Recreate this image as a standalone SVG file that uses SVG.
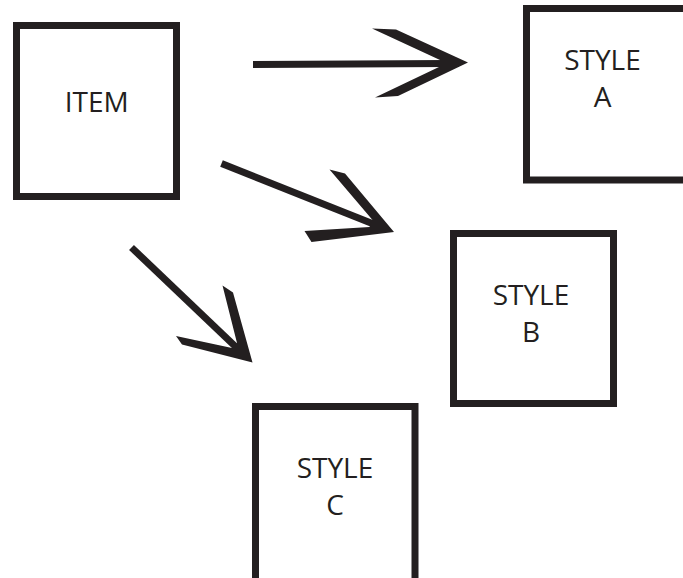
<svg xmlns="http://www.w3.org/2000/svg" width="683" height="578" viewBox="0 0 683 578">
<style>
.box{fill:#fff;stroke:#231f20;stroke-width:7}
.lbl{font-family:"Open Sans","Noto Sans",sans-serif;font-size:28px;fill:#231f20;text-anchor:middle}
.shaft{stroke:#231f20;stroke-width:7;fill:none}
.head{fill:#231f20;stroke:none}
</style>
<rect width="683" height="578" fill="#fff"/>
<g id="item">
<rect class="box" x="16.5" y="25.5" width="160" height="171"/>
<text class="lbl" x="96.7" y="111.5">ITEM</text>
</g>
<g id="style-a">
<rect class="box" x="526.5" y="8.5" width="162" height="171.5"/>
<text class="lbl" x="602.5" y="70">STYLE</text>
<text class="lbl" x="602.5" y="107">A</text>
</g>
<g id="style-b">
<rect class="box" x="453.5" y="233.5" width="160" height="170"/>
<text class="lbl" x="531" y="305">STYLE</text>
<text class="lbl" x="531" y="342">B</text>
</g>
<g id="style-c">
<rect class="box" x="255.5" y="406.5" width="159.5" height="180"/>
<text class="lbl" x="335" y="478">STYLE</text>
<text class="lbl" x="335" y="515">C</text>
</g>
<g id="connectors">
<line class="shaft" x1="253" y1="64.5" x2="448" y2="63.5"/>
<polygon class="head" points="468,62.5 396,29.5 372,28.5 440,60 440,66.5 375,97.5 398,96"/>
<line class="shaft" x1="221.5" y1="163.5" x2="376" y2="225"/>
<polygon class="head" points="394,232 345,173.5 329.5,169.5 372.5,220 369.5,227 304.5,231 311.5,242"/>
<line class="shaft" x1="131.5" y1="247.5" x2="238" y2="349"/>
<polygon class="head" points="252.5,362.5 233,292.5 222.5,285.5 237,343 232,348 176,336 182,344.5"/>
</g>
</svg>
